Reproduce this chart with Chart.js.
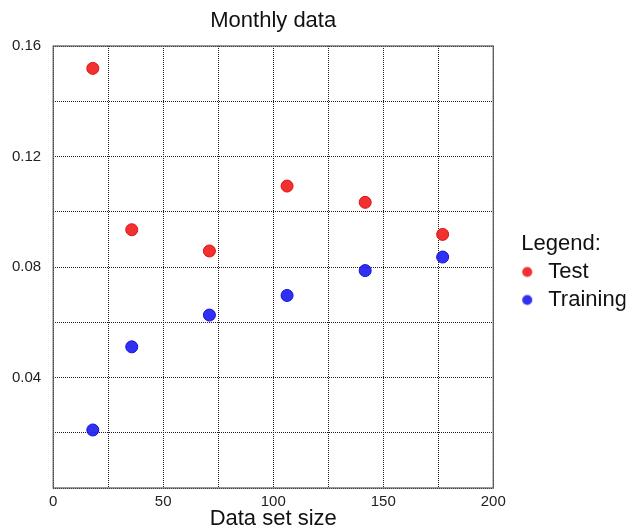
<!DOCTYPE html>
<html>
<head>
<meta charset="utf-8">
<script src="https://cdn.jsdelivr.net/npm/chart.js@4/dist/chart.umd.min.js"></script>
<style>
html,body{margin:0;padding:0;background:#fff;}
#wrap{width:629px;height:531px;}
</style>
</head>
<body>
<div id="wrap"><canvas id="c" width="629" height="531"></canvas></div>
<script>
const dataSetSizes = [18, 35.7, 71, 106.3, 141.8, 177];
const testValues = [0.1519, 0.0935, 0.0858, 0.1093, 0.1034, 0.0918];
const trainingValues = [0.0210, 0.0511, 0.0626, 0.0697, 0.0787, 0.0836];
const xTickLabels = [0, 50, 100, 150, 200];
const yTickLabels = [0.04, 0.08, 0.12, 0.16];

const FONT = "'Liberation Sans', Arial, sans-serif";
const RED = 'rgba(240,30,30,0.92)', RED_EDGE = '#e01010';
const BLUE = 'rgba(30,30,240,0.92)', BLUE_EDGE = '#1010e0';

// legend marker: a small circle drawn left of the image centre
function legendMarker(fill) {
  const c = document.createElement('canvas');
  c.width = 26; c.height = 13;
  const g = c.getContext('2d');
  g.beginPath();
  g.arc(8, 6.5, 5, 0, Math.PI * 2);
  g.fillStyle = fill;
  g.fill();
  return c;
}
const legendMarkers = [legendMarker(RED), legendMarker(BLUE)];

const framePlugin = {
  id: 'frame',
  beforeDatasetsDraw(chart) {
    const a = chart.chartArea, ctx = chart.ctx;
    ctx.save();
    ctx.strokeStyle = '#555';
    ctx.lineWidth = 1.2;
    ctx.strokeRect(a.left, a.top, a.right - a.left, a.bottom - a.top);
    ctx.restore();
  }
};

function pts(vals) { return dataSetSizes.map((x, i) => ({x: x, y: vals[i]})); }

new Chart(document.getElementById('c'), {
  type: 'scatter',
  data: {
    datasets: [
      { label: 'Test', data: pts(testValues), backgroundColor: RED, borderColor: RED_EDGE, borderWidth: 1, pointRadius: 6, pointStyle: 'circle' },
      { label: 'Training', data: pts(trainingValues), backgroundColor: BLUE, borderColor: BLUE_EDGE, borderWidth: 1, pointRadius: 6, pointStyle: 'circle' }
    ]
  },
  options: {
    responsive: false,
    animation: false,
    devicePixelRatio: 1,
    layout: { padding: { left: 0, right: 3.5, top: 4, bottom: 4 } },
    scales: {
      x: {
        type: 'linear', min: 0, max: 200,
        ticks: { stepSize: 25, color: '#222', font: { family: FONT, size: 15, lineHeight: 1 }, padding: 6, maxRotation: 0,
          callback: v => xTickLabels.includes(v) ? String(v) : '' },
        grid: { color: '#222', lineWidth: 1, drawTicks: false },
        border: { display: false, dash: [1, 1] },
        title: { display: true, text: 'Data set size', color: '#111', font: { family: FONT, size: 22, lineHeight: 1 }, padding: { top: -7, bottom: -3 } }
      },
      x2: {
        type: 'linear', position: 'top', min: 0, max: 200,
        ticks: { display: false },
        grid: { display: false, drawTicks: false },
        border: { display: false },
        title: { display: true, text: 'Monthly data', color: '#111', font: { family: FONT, size: 22 }, padding: { top: 4, bottom: 11.6 } }
      },
      y: {
        type: 'linear', min: 0, max: 0.16,
        ticks: { stepSize: 0.02, color: '#222', font: { family: FONT, size: 15 }, padding: 12,
          callback: v => { const r = Math.round(v * 100) / 100; return yTickLabels.some(t => Math.abs(t - r) < 1e-9) ? r.toFixed(2) : ''; } },
        grid: { color: '#222', lineWidth: 1, drawTicks: false },
        border: { display: false, dash: [1, 1] }
      },
      y2: {
        type: 'linear', position: 'right', min: 0, max: 1,
        ticks: { display: false },
        grid: { display: false, drawTicks: false },
        border: { display: false },
        afterFit: s => { s.width = 28; }
      }
    },
    plugins: {
      title: { display: false },
      tooltip: { enabled: false },
      legend: {
        position: 'right',
        align: 'center',
        title: { display: true, text: 'Legend:', position: 'start', color: '#111', font: { family: FONT, size: 22, lineHeight: 1 }, padding: { top: 19, bottom: 0 } },
        labels: {
          usePointStyle: true, boxWidth: 10, boxHeight: 7, padding: 6, color: '#111', font: { family: FONT, size: 22 },
          generateLabels(chart) {
            const items = Chart.defaults.plugins.legend.labels.generateLabels(chart);
            items.forEach((it, i) => { it.pointStyle = legendMarkers[i]; });
            return items;
          }
        }
      }
    }
  },
  plugins: [framePlugin]
});
</script>
</body>
</html>
